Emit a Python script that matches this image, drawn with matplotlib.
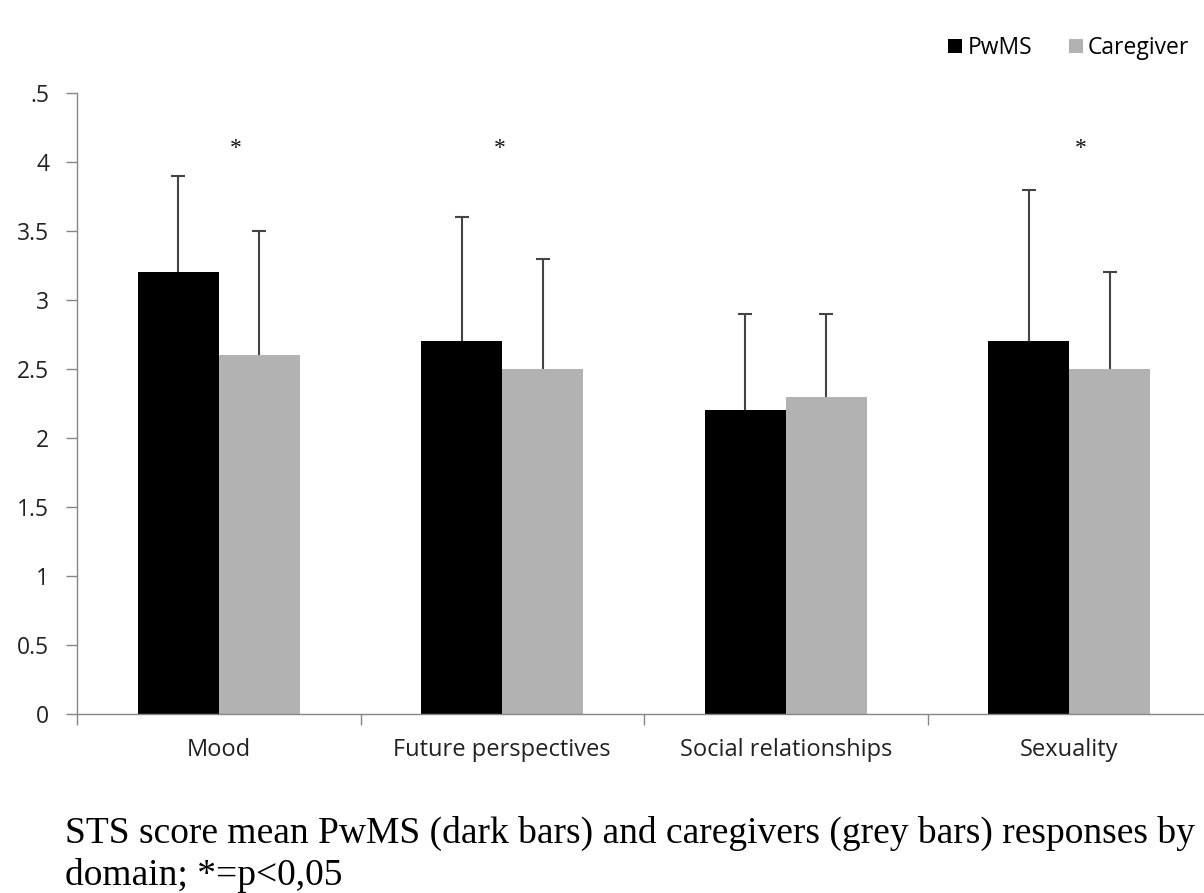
import numpy as np
import matplotlib
matplotlib.use("Agg")
import matplotlib.pyplot as plt

# data
domains = ["Mood", "Future perspectives", "Social relationships", "Sexuality"]
pwms_mean = [3.2, 2.7, 2.2, 2.7]
pwms_sd = [0.7, 0.9, 0.7, 1.1]
care_mean = [2.6, 2.5, 2.3, 2.5]
care_sd = [0.9, 0.8, 0.6, 0.7]
significant = [True, True, False, True]
y_ticks = [0, 0.5, 1, 1.5, 2, 2.5, 3, 3.5, 4, 4.5]
y_tick_labels = ["0", "0.5", "1", "1.5", "2", "2.5", "3", "3.5", "4", ".5"]
caption_lines = ["STS score mean PwMS (dark bars) and caregivers (grey bars) responses by",
                 "domain; *=p<0,05"]

W, H = 1204, 893
fig = plt.figure(figsize=(W / 100, H / 100), dpi=100)
# axes runs a little past the right edge, like the cropped original
ax = fig.add_axes([77 / W, 1 - 714 / H, (1211 - 77) / W, (714 - 93) / H])

axis_grey = "#868686"
err_col = "#444444"
bar_w = 0.286
cap = 0.025
x = np.arange(len(domains))
pos_p = x - bar_w / 2
pos_c = x + bar_w / 2
ax.bar(pos_p, pwms_mean, bar_w, color="black", label="PwMS")
ax.bar(pos_c, care_mean, bar_w, color="#b2b2b2", label="Caregiver")

# upper-only error bars, no cap at the bar top
for pos, m, sd in [(pos_p, pwms_mean, pwms_sd), (pos_c, care_mean, care_sd)]:
    top = np.array(m) + np.array(sd)
    ax.vlines(pos, m, top, color=err_col, linewidth=1.5)
    ax.hlines(top, pos - cap, pos + cap, color=err_col, linewidth=1.5)

star_shift = [0.06, -0.01, 0.0, 0.04]
for i, sig in enumerate(significant):
    if sig:
        ax.text(x[i] + star_shift[i], 4.02, "*", ha="center", va="bottom",
                fontsize=17, family="Liberation Serif", color="#111111")

ax.set_xlim(-0.5, len(domains) - 0.5)
ax.set_ylim(0, 4.5)
ax.set_yticks(y_ticks)
ax.set_yticklabels(y_tick_labels)

# category ticks sit at the boundaries between groups
ax.set_xticks(np.arange(len(domains) + 1) - 0.5)
ax.set_xticklabels([])
ax.set_xticks(x, minor=True)
ax.set_xticklabels(domains, minor=True)
ax.tick_params(axis="x", which="major", length=8, width=1, color=axis_grey,
               direction="out")
ax.tick_params(axis="x", which="minor", length=0, pad=17)
ax.tick_params(axis="y", length=8, width=1, color=axis_grey, pad=12)
for lab in ax.get_xticklabels(minor=True):
    lab.set_family("Open Sans")
    lab.set_fontsize(17)
    lab.set_color("#222222")
for lab in ax.get_yticklabels():
    lab.set_family("Open Sans")
    lab.set_fontsize(16.5)
    lab.set_color("#222222")

for side in ["top", "right"]:
    ax.spines[side].set_visible(False)
for side in ["left", "bottom"]:
    ax.spines[side].set_color(axis_grey)
    ax.spines[side].set_linewidth(1)

fig.legend(loc="center left", bbox_to_anchor=(932 / W, 1 - 48 / H), ncol=2,
           frameon=False, handlelength=0.62, handleheight=0.62,
           handletextpad=0.22, columnspacing=1.6, borderpad=0.2,
           prop={"family": "Open Sans", "size": 16.5})

for k, line in enumerate(caption_lines):
    fig.text(65 / W, 1 - (843 + 42 * k) / H, line, ha="left", va="baseline",
             family="Liberation Serif", fontsize=27)

fig.savefig("out.png", dpi=100)
